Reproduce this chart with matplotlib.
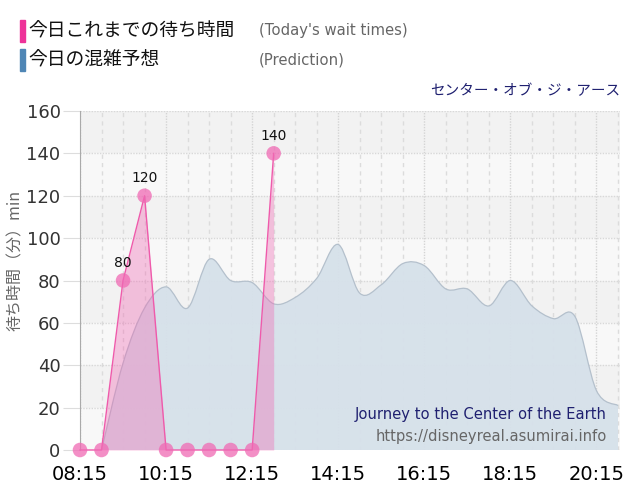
import matplotlib
matplotlib.use("Agg")
import matplotlib.pyplot as plt
import numpy as np
from matplotlib.path import Path
from matplotlib.patches import PathPatch

plt.rcParams['font.family'] = ['Noto Sans CJK JP', 'DejaVu Sans']

# ---- data ----
actual_times = ["08:15", "08:45", "09:15", "09:45", "10:15", "10:45", "11:15", "11:45", "12:15", "12:45"]
actual_values = [0, 0, 80, 120, 0, 0, 0, 0, 0, 140]
labeled_values = [80, 120, 140]

pred_times = ["08:45", "09:15", "09:45", "10:15", "10:45", "11:15", "11:45", "12:15", "12:45",
              "13:15", "13:45", "14:15", "14:45", "15:15", "15:45", "16:15", "16:45", "17:15",
              "17:45", "18:15", "18:45", "19:15", "19:45", "20:15", "20:45"]
pred_values = [0, 41, 67, 77, 67, 90, 80, 79, 69,
               72, 81, 97, 74, 78, 88, 87, 76, 76,
               68, 80, 68, 62, 63, 28, 21]

xtick_labels = ["08:15", "10:15", "12:15", "14:15", "16:15", "18:15", "20:15"]
yticks = [0, 20, 40, 60, 80, 100, 120, 140, 160]

title_jp = "センター・オブ・ジ・アース"
title_en = "Journey to the Center of the Earth"
site = "https://disneyreal.asumirai.info"
legend_items = [("今日これまでの待ち時間", "(Today's wait times)", "#ee3399"),
                ("今日の混雑予想", "(Prediction)", "#4f86b5")]


def to_h(s):
    h, m = s.split(":")
    return int(h) + int(m) / 60.0


ax_x = np.array([to_h(t) for t in actual_times])
ax_y = np.array(actual_values, dtype=float)
px = np.array([to_h(t) for t in pred_times])
py = np.array(pred_values, dtype=float)

fig = plt.figure(figsize=(6.4, 5.0), dpi=100)
ax = fig.add_axes([0.125, 0.1, 0.844, 0.678])
ax.set_facecolor("#f3f3f3")
ax.set_xlim(to_h("08:15"), 20.8)
ax.set_ylim(0, 160)

# background bands
for k in range(len(yticks) - 1):
    ax.axhspan(yticks[k], yticks[k + 1], color="#f2f2f2" if k % 2 == 1 else "#f8f8f8",
               lw=0, zorder=0)

# grid
start = to_h("08:15")
for t in np.arange(start, 20.8, 0.5):
    major = abs(((t - start) / 2) - round((t - start) / 2)) < 1e-6
    if major:
        ax.axvline(t, color="#d4d4d4", lw=1.0, ls=(0, (1, 1)), zorder=0.5)
    else:
        ax.axvline(t, color="#dcdcdc", lw=1.0, ls=(0, (3, 3)), zorder=0.5)
for v in yticks:
    ax.axhline(v, color="#d8d8d8", lw=1.0, ls=(0, (1, 1)), zorder=0.5)

# smooth prediction curve (Catmull-Rom -> Bezier)
verts = [(px[0], 0), (px[0], py[0])]
codes = [Path.MOVETO, Path.LINETO]
n = len(px)
for i in range(n - 1):
    p0 = np.array([px[max(i - 1, 0)], py[max(i - 1, 0)]])
    p1 = np.array([px[i], py[i]])
    p2 = np.array([px[i + 1], py[i + 1]])
    p3 = np.array([px[min(i + 2, n - 1)], py[min(i + 2, n - 1)]])
    c1 = p1 + (p2 - p0) / 6.0
    c2 = p2 - (p3 - p1) / 6.0
    c1[1] = max(c1[1], 0)
    c2[1] = max(c2[1], 0)
    verts += [tuple(c1), tuple(c2), tuple(p2)]
    codes += [Path.CURVE4] * 3
line_verts = verts[1:]
line_codes = [Path.MOVETO] + codes[2:]
verts_fill = verts + [(px[-1], 0), (px[0], 0)]
codes_fill = codes + [Path.LINETO, Path.CLOSEPOLY]
ax.add_patch(PathPatch(Path(verts_fill, codes_fill), facecolor="#d6e1ea", edgecolor="none",
                       alpha=0.95, zorder=1))
ax.add_patch(PathPatch(Path(line_verts, line_codes), facecolor="none", edgecolor="#b4c0cc",
                       lw=0.9, zorder=2))

# actual wait times
ax.fill_between(ax_x, ax_y, 0, color="#f06ab4", alpha=0.38, lw=0, zorder=3)
ax.plot(ax_x, ax_y, color="#ef5aab", lw=1.0, zorder=4, clip_on=False)
ax.scatter(ax_x, ax_y, s=110, color="#f06ab4", alpha=0.75, edgecolor="none", zorder=5, clip_on=False)
for x, y in zip(ax_x, ax_y):
    if y in labeled_values:
        ax.text(x, y + 5, f"{int(y)}", ha="center", va="bottom", fontsize=10,
                color="#111111", family=["DejaVu Sans"], zorder=6)

# axes styling
for s in ["top", "right", "bottom"]:
    ax.spines[s].set_visible(False)
ax.spines["left"].set_color("#aaaaaa")
ax.set_yticks(yticks)
ax.set_yticklabels([str(v) for v in yticks], fontsize=13, color="#333333", family=["DejaVu Sans"])
ax.tick_params(axis="y", length=12, color="#dddddd", pad=2)
ax.set_xticks([to_h(t) for t in xtick_labels])
ax.set_xticklabels(xtick_labels, fontsize=14, color="#000000", family=["DejaVu Sans"])
ax.tick_params(axis="x", length=0, pad=11)
ax.set_ylabel("待ち時間（分）min", fontsize=11.5, color="#666666")
ax.yaxis.set_label_coords(-0.104, 0.56)

# titles
fig.text(620 / 640, 1 - 91 / 500, title_jp, ha="right", va="center", fontsize=10.5, color="#1f2070")
ax.text(0.975, 0.105, title_en, transform=ax.transAxes, ha="right", va="center",
        fontsize=10.6, color="#1f2070", family=["DejaVu Sans"], zorder=7)
ax.text(0.975, 0.04, site, transform=ax.transAxes, ha="right", va="center",
        fontsize=10.6, color="#666666", family=["DejaVu Sans"], zorder=7)

# legend
for i, (jp, en, col) in enumerate(legend_items):
    yc = 1 - (31 + i * 29) / 500
    fig.patches.append(plt.Rectangle((20 / 640, yc - 11 / 500), 5 / 640, 22 / 500,
                                     transform=fig.transFigure, color=col, figure=fig))
    fig.text(28 / 640, yc, jp, ha="left", va="center", fontsize=13.5, color="#111111")
    fig.text(259 / 640, yc, en, ha="left", va="center", fontsize=10.7, color="#666666",
             family=["DejaVu Sans"])

fig.savefig("out.png", dpi=100)
